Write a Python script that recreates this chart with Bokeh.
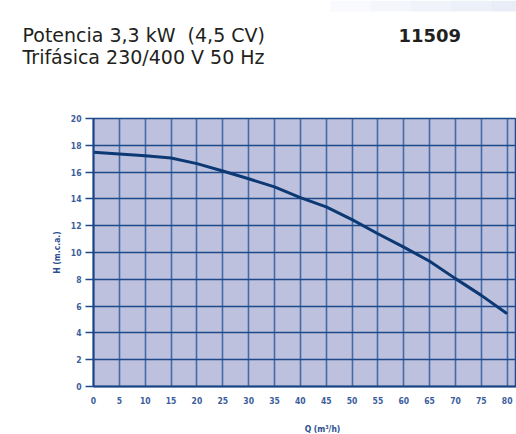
from bokeh.plotting import figure
from bokeh.layouts import column
from bokeh.models import Range1d, FixedTicker, ColumnDataSource
from bokeh.core.properties import value
from bokeh.embed import file_html
from bokeh.resources import INLINE

# ---- data ----
flow_q = [0, 5, 10, 15, 20, 25, 30, 35, 40, 45, 50, 55, 60, 65, 70, 75, 79.8]
head_h = [17.48, 17.35, 17.22, 17.05, 16.63, 16.08, 15.5, 14.9, 14.1, 13.4,
          12.45, 11.4, 10.4, 9.35, 8.05, 6.8, 5.49]
x_ticks = list(range(0, 81, 5))
y_ticks = list(range(0, 21, 2))
title_lines = ["Potencia 3,3 kW \u00a0(4,5 CV)", "Trifásica 230/400 V 50 Hz"]
model_code = ["11509"]
x_title = ["Q (m³/h)"]
y_title = "H (m.c.a.)"

W = 516
FRAME_LEFT = 93
GRID_V = "#2f5c9e"
GRID_H = "#1e4a8c"
AXIS_C = "#1a4587"
TICK_TXT = "#3b5d9c"
TITLE_C = "#2a4f8f"
CURVE_C = "#0c3874"
TICK_FONT = "DejaVu Sans Condensed"

# faint banner steps (decoration at the top right of the page)
banner_left = [330, 370, 410, 450, 490]
banner_colors = ["#f9fafd", "#f4f6fb", "#f0f3f9", "#ecf0f8", "#e9edf7"]


def blank(height, yr, **kw):
    f = figure(width=W, height=height, output_backend="svg", toolbar_location=None,
               x_range=Range1d(0, W), y_range=yr, min_border=0, **kw)
    f.frame_align = False
    f.axis.visible = False
    f.grid.visible = False
    f.outline_line_color = None
    f.background_fill_color = "white"
    f.border_fill_color = "white"
    return f


# ---- header ----
header = blank(100, Range1d(100, 0), title=None)
banner_right = banner_left[1:] + [W]
header.quad(left=banner_left, right=banner_right, top=0, bottom=11,
            fill_color=banner_colors, line_color=None)
header.text(x=[22, 22], y=[34.7, 56.3], text=title_lines,
            text_font=value("DejaVu Sans"), text_font_size="19px",
            text_color="#231f20", text_baseline="alphabetic", text_align="left")
header.text(x=[398], y=[34.7], text=model_code,
            text_font=value("DejaVu Sans"), text_font_style="bold",
            text_font_size="18px", text_color="#231f20",
            text_baseline="alphabetic", text_align="left")

# ---- chart ----
p = figure(width=W, height=316, output_backend="svg", toolbar_location=None,
           x_range=Range1d(0, 81.8), y_range=Range1d(0, 20),
           min_border_left=FRAME_LEFT, min_border_top=18, min_border_bottom=30,
           min_border_right=0)
p.frame_align = False
p.background_fill_color = "#bdc1dd"
p.border_fill_color = "white"
p.outline_line_color = GRID_H
p.outline_line_width = 1.5

p.xgrid.ticker = FixedTicker(ticks=x_ticks)
p.ygrid.ticker = FixedTicker(ticks=y_ticks)
p.xgrid.grid_line_color = GRID_V
p.xgrid.grid_line_width = 1.6
p.xgrid.grid_line_alpha = 0.85
p.ygrid.grid_line_color = GRID_H
p.ygrid.grid_line_width = 1.4

xa = p.xaxis[0]
xa.ticker = FixedTicker(ticks=x_ticks)
xa.axis_line_color = AXIS_C
xa.axis_line_width = 2
xa.major_tick_out = 0
xa.major_tick_in = 0
xa.minor_tick_out = 0
xa.minor_tick_in = 0
xa.major_label_standoff = 10
xa.major_label_text_font = TICK_FONT
xa.major_label_text_font_style = "bold"
xa.major_label_text_font_size = "8.5px"
xa.major_label_text_color = TICK_TXT

ya = p.yaxis[0]
ya.ticker = FixedTicker(ticks=y_ticks)
ya.axis_line_color = AXIS_C
ya.axis_line_width = 2
ya.major_tick_out = 8
ya.major_tick_in = 0
ya.major_tick_line_color = GRID_H
ya.major_tick_line_width = 1.4
ya.minor_tick_out = 0
ya.minor_tick_in = 0
ya.major_label_standoff = 4
ya.major_label_text_font = TICK_FONT
ya.major_label_text_font_style = "bold"
ya.major_label_text_font_size = "8.5px"
ya.major_label_text_color = TICK_TXT
ya.axis_label = y_title
ya.axis_label_standoff = 6
ya.axis_label_text_font = TICK_FONT
ya.axis_label_text_font_style = "bold"
ya.axis_label_text_font_size = "8.5px"
ya.axis_label_text_color = TITLE_C

src = ColumnDataSource(dict(q=flow_q, h=head_h))
p.line("q", "h", source=src, line_color=CURVE_C, line_width=3, line_cap="round")

# ---- footer (x axis title) ----
footer = blank(18, Range1d(18, 0))
footer.text(x=[322], y=[12], text=x_title, text_font=value(TICK_FONT),
            text_font_style="bold", text_font_size="8.5px", text_color=TITLE_C,
            text_align="center", text_baseline="middle")

layout = column(header, p, footer, spacing=0)
open("out.html", "w").write(file_html(layout, INLINE))
